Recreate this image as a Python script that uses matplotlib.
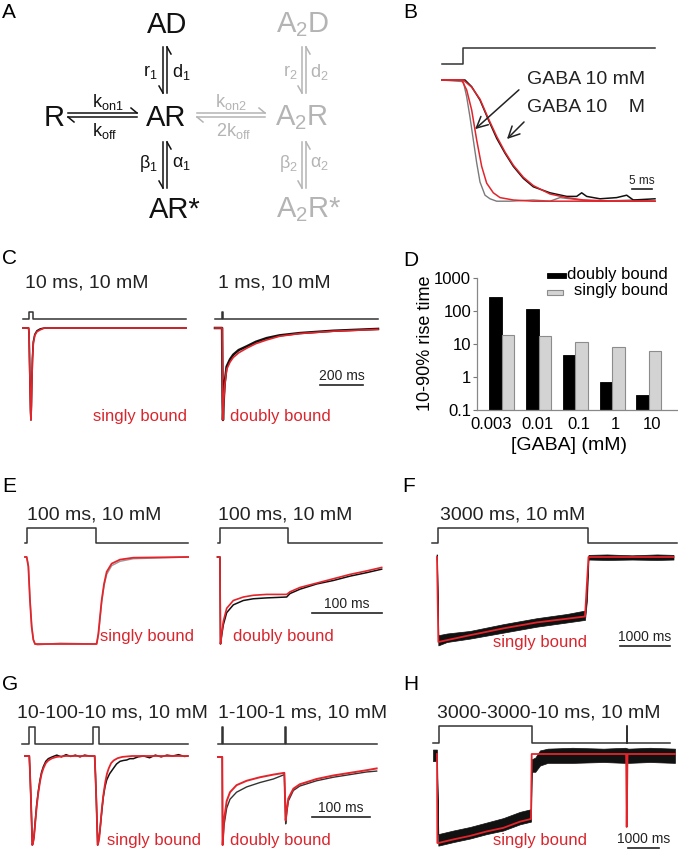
import numpy as np
import matplotlib.pyplot as plt
from matplotlib.patches import Rectangle

plt.rcParams['font.family'] = ['Liberation Sans', 'DejaVu Sans']
plt.rcParams['mathtext.default'] = 'regular'

W, H = 678, 852
RED = '#e3242b'
TXT_RED = '#d9262e'
GRAY = '#b4b4b4'
CMD = '#333333'

# ---- panel B: onset of currents (ms, normalised current)
B_cmd_t = [0, 5.2, 5.2, 53.25]
B_cmd = [0, 0, 1, 1]
B_fast_t = [0, 5.33, 6.17, 7.0, 7.83, 8.67, 9.5, 10.75, 12, 13.67, 17, 22.8, 27, 29.5, 32, 34.5, 39.5, 47.8, 53.25]
B_fast = [0, -0.014, -0.14, -0.31, -0.5, -0.69, -0.85, -0.96, -0.99, -1.01, -1.01, -1.0, -1.01, -0.98, -0.99, -1.0, -1.01, -1.0, -1.01]
B_fast_fit_t = [0, 4.92, 6.17, 7.42, 8.67, 9.92, 11.17, 12.83, 14.5, 17.83, 22.83, 53.25]
B_fast_fit = [0, 0, -0.083, -0.25, -0.5, -0.72, -0.86, -0.94, -0.98, -1.0, -1.01, -1.01]
B_slow_t = [0, 5.75, 7.42, 9.5, 11.58, 13.67, 15.75, 17.83, 20.33, 22.83, 27, 31.17, 33.67, 34.92, 36.17, 39.5, 43.67, 46.17, 47.83, 53.25]
B_slow = [0, 0, -0.056, -0.167, -0.33, -0.486, -0.61, -0.72, -0.82, -0.89, -0.94, -0.97, -0.97, -0.94, -0.97, -0.99, -0.98, -0.96, -1.0, -0.99]
B_slow_fit_t = [0, 5.33, 7.42, 9.5, 11.58, 13.67, 15.75, 17.83, 20.33, 22.83, 27, 31.17, 35.33, 43.67, 53.25]
B_slow_fit = [0, 0, -0.06, -0.16, -0.32, -0.47, -0.6, -0.71, -0.81, -0.88, -0.95, -0.98, -1.0, -1.01, -1.01]

# ---- panel C
C_left_cmd_t = [0, 28, 28, 46, 46, 758]
C_right_cmd_t = [0, 32, 32, 35, 35, 758]
pulse1 = [0, 0, 1, 1, 0, 0]
C_left_t = [0, 26, 28, 30, 33, 35, 37, 39, 41, 44, 48, 55, 65, 80, 100, 758]
C_left_data = [0, 0, -0.05, -0.3, -0.66, -0.9, -1.0, -0.83, -0.6, -0.33, -0.15, -0.07, -0.03, -0.01, 0, 0]
C_left_fit = [0, 0, -0.05, -0.3, -0.65, -0.88, -1.0, -0.85, -0.62, -0.35, -0.17, -0.08, -0.04, -0.02, 0, 0]
C_right_t = [0, 33, 34, 35.5, 37, 40, 45, 54, 70, 85, 110, 147, 190, 240, 300, 395, 550, 758]
C_right_data = [0, 0, -0.35, -0.8, -1.0, -0.8, -0.6, -0.42, -0.34, -0.29, -0.24, -0.2, -0.15, -0.11, -0.08, -0.055, -0.03, -0.01]
C_right_fit = [0, 0, -0.35, -0.8, -1.0, -0.82, -0.63, -0.45, -0.37, -0.32, -0.27, -0.22, -0.17, -0.13, -0.09, -0.06, -0.035, -0.015]

# ---- panel D: 10-90% rise time (ms)
gaba = ['0.003', '0.01', '0.1', '1', '10']
rise_doubly = [260, 117, 4.5, 0.69, 0.29]
rise_singly = [18.4, 17.1, 11.2, 7.9, 6.3]

# ---- panel E
E_left_cmd_t = [0, 3.5, 3.5, 101, 101, 233]
E_right_cmd_t = [0, 3.5, 3.5, 101, 101, 235]
E_left_t = [0, 2.4, 4.8, 7.1, 9.5, 11.9, 14.3, 18, 50, 100, 102.4, 104.8, 107.1, 109.5, 112.9, 116.7, 123.8, 135.7, 154.8, 233]
E_left_data = [0, 0, -0.1, -0.48, -0.79, -0.95, -1.0, -1.01, -0.99, -1.0, -0.99, -0.9, -0.72, -0.52, -0.33, -0.2, -0.1, -0.05, -0.02, 0]
E_left_fit = [0, 0, -0.11, -0.5, -0.8, -0.95, -1.0, -1.0, -1.0, -1.0, -1.0, -0.88, -0.69, -0.5, -0.31, -0.17, -0.076, -0.03, -0.008, 0]
E_right_t = [0, 3.5, 4.3, 6, 8.3, 13.1, 22.6, 36.9, 51.2, 70.2, 98.8, 103.6, 117.9, 141.7, 165.5, 189.3, 213, 234.5]
E_right_data = [0, 0, -1.0, -0.9, -0.78, -0.64, -0.55, -0.5, -0.48, -0.47, -0.46, -0.42, -0.37, -0.31, -0.27, -0.22, -0.18, -0.14]
E_right_fit = [0, 0, -1.0, -0.88, -0.74, -0.59, -0.5, -0.46, -0.44, -0.43, -0.43, -0.40, -0.35, -0.30, -0.25, -0.20, -0.16, -0.12]

# ---- panel F (noisy record given as envelope)
F_cmd_t = [0, 120, 120, 3120, 3120, 4900]
F_fit_t = [100, 127, 760, 1427, 2093, 3060, 3130, 4830]
F_fit = [0, -1.0, -0.92, -0.84, -0.77, -0.70, 0, 0]
F_band_t = [90, 100, 127, 300, 760, 1427, 2093, 2700, 3060, 3100, 3130, 3500, 4000, 4500, 4830]
F_upper = [0.03, 0.03, -0.92, -0.9, -0.87, -0.79, -0.72, -0.67, -0.63, -0.3, 0.025, 0.03, 0.02, 0.03, 0.025]
F_lower = [-0.03, -0.03, -1.04, -1.0, -0.96, -0.89, -0.82, -0.77, -0.74, -0.5, -0.03, -0.035, -0.03, -0.035, -0.03]

# ---- panel G
G_left_cmd_t = [0, 12, 12, 22, 22, 122, 122, 132, 132, 286]
G_right_cmd_t = [0, 6.5, 6.5, 8.5, 8.5, 115, 115, 117, 117, 274]
pulse2 = [0, 0, 1, 1, 0, 0, 1, 1, 0, 0]
G_left_fit_t = [5, 12.6, 14, 15.5, 16.8, 17.8, 19.2, 20.7, 23, 25.3, 28, 31, 33.8, 36.8, 41, 45.4, 52, 60, 75,
                125.3, 126.7, 128.2, 129.5, 130.5, 131.9, 133.4, 135.7, 138, 140.7, 143.7, 146.5, 149.5, 153.7, 158.1,
                164.7, 173, 190, 286]
G_left_fit = [0, 0, -0.22, -0.5, -0.78, -1.0, -0.97, -0.91, -0.74, -0.57, -0.42, -0.29, -0.2, -0.14, -0.08, -0.05,
              -0.025, -0.01, 0, 0, -0.22, -0.5, -0.78, -1.0, -0.97, -0.91, -0.74, -0.57, -0.42, -0.29, -0.2, -0.14,
              -0.08, -0.05, -0.025, -0.01, 0, 0]
G_left_data_t = [5, 12.6, 14, 15.5, 16.8, 17.8, 19.2, 20.7, 23, 25.3, 28, 31, 33.8, 36.8, 41, 45.4, 52, 60, 68, 76,
                 84, 92, 100, 108, 116, 125.3, 126.7, 128.2, 129.5, 130.5, 132, 134.5, 137, 140.2, 143, 146, 151,
                 157.5, 163, 169, 175, 180.5, 186, 192, 200, 210, 220, 230, 240, 250, 260, 270, 280, 286]
G_left_data = [0, 0, -0.22, -0.5, -0.78, -1.0, -0.97, -0.9, -0.72, -0.55, -0.4, -0.27, -0.18, -0.12, -0.06, -0.03,
               -0.01, 0.01, -0.01, 0.015, -0.005, 0.01, -0.01, 0.01, 0, 0, -0.22, -0.5, -0.78, -1.0, -0.95, -0.83,
               -0.66, -0.46, -0.35, -0.27, -0.2, -0.14, -0.09, -0.06, -0.05, -0.045, -0.03, -0.03, -0.01, 0.0,
               -0.02, 0.01, -0.01, 0.01, 0.0, 0.015, -0.005, 0]
G_right_t = [0, 7.3, 8, 10.3, 15, 20.7, 32, 49.4, 72.4, 95.4, 114.4, 116.7, 118.5, 121.3, 130, 141, 170, 198.8, 227.6, 256.3, 273.6]
G_right_fit = [0, 0, -1.0, -0.72, -0.5, -0.4, -0.32, -0.27, -0.23, -0.2, -0.18, -0.72, -0.6, -0.47, -0.36, -0.31, -0.25, -0.21, -0.18, -0.15, -0.13]
G_right_data = [0, 0, -1.0, -0.78, -0.58, -0.48, -0.4, -0.34, -0.29, -0.25, -0.2, -0.76, -0.64, -0.5, -0.38, -0.33, -0.27, -0.23, -0.2, -0.17, -0.16]

# ---- panel H
H_cmd_t = [0, 194, 194, 3194, 3194, 6245, 6245, 6265, 6265, 7645]
H_fit_t = [129, 140, 172, 655, 1194, 1732, 2268, 2806, 3161, 3184, 6230, 6248, 6275, 7806]
H_fit = [0, -1.0, -1.0, -0.96, -0.92, -0.87, -0.83, -0.76, -0.73, 0, 0, -0.82, 0, 0]
H_band_t = [0, 125, 172, 655, 1194, 1732, 2268, 2806, 3161, 3184, 3300, 3450, 3700, 4500, 5500, 6200, 6300, 7000, 7806]
H_upper = [0.05, 0.05, -0.9, -0.86, -0.82, -0.77, -0.72, -0.65, -0.62, -0.06, -0.04, 0.04, 0.06, 0.07, 0.06, 0.07, 0.06, 0.07, 0.06]
H_lower = [-0.08, -0.08, -1.03, -0.99, -0.95, -0.9, -0.86, -0.79, -0.76, -0.2, -0.2, -0.13, -0.1, -0.1, -0.09, -0.1, -0.1, -0.09, -0.1]


fig = plt.figure(figsize=(W / 100, H / 100), dpi=100)
ov = fig.add_axes([0, 0, 1, 1])
ov.set_xlim(0, W)
ov.set_ylim(H, 0)
ov.axis('off')
ov.set_zorder(5)


def cmd_axes(x0, x1, y_low, y_high, t_end, t, level):
    ax = fig.add_axes([x0 / W, 1 - y_low / H, (x1 - x0) / W, (y_low - y_high) / H])
    ax.set_xlim(0, t_end)
    ax.set_ylim(0, 1)
    ax.axis('off')
    ax.plot(t, level, color=CMD, lw=1.1, clip_on=False)
    return ax


def trace_axes(x0, x1, y_base, y_peak, t_end):
    ax = fig.add_axes([x0 / W, 1 - y_peak / H, (x1 - x0) / W, (y_peak - y_base) / H])
    ax.set_xlim(0, t_end)
    ax.set_ylim(-1, 0)
    ax.axis('off')
    return ax


def scale_bar(ax, t0, length, y, label, size=10):
    ax.plot([t0, t0 + length], [y, y], color='#222222', lw=1.2, clip_on=False)
    ax.annotate(label, (t0 + length / 2, y), xytext=(0, 1.5), textcoords='offset points',
                ha='center', va='bottom', fontsize=size, color='#222222', annotation_clip=False)


def trace(ax, t, y, color, lw=1.2, z=2):
    ax.plot(t, y, color=color, lw=lw, clip_on=False, zorder=z, solid_joinstyle='round')


# ---------------- panel A: kinetic scheme
def harpoons_h(x0, x1, y, color):
    ov.plot([x0, x1], [y - 2, y - 2], color=color, lw=1.1)
    ov.plot([x1 - 6, x1], [y - 7, y - 2], color=color, lw=1.1)
    ov.plot([x0, x1], [y + 2, y + 2], color=color, lw=1.1)
    ov.plot([x0, x0 + 6], [y + 2, y + 7], color=color, lw=1.1)


def harpoons_v(x, y0, y1, color):
    ov.plot([x - 2, x - 2], [y0, y1], color=color, lw=1.1)
    ov.plot([x - 2, x - 6], [y1, y1 - 7], color=color, lw=1.1)
    ov.plot([x + 2, x + 2], [y0, y1], color=color, lw=1.1)
    ov.plot([x + 2, x + 6], [y0, y0 + 7], color=color, lw=1.1)


K = '#111111'
for s, x, y, c in [('AD', 167, 25, K), ('AR', 166, 118, K), ('AR*', 175, 210, K), ('R', 54, 118, K),
                   ('A$_2$D', 303, 25, GRAY), ('A$_2$R', 302, 118, GRAY), ('A$_2$R*', 309, 210, GRAY)]:
    ov.text(x, y, s, fontsize=21, color=c, ha='center', va='center')

harpoons_h(68, 137, 115, K)
harpoons_h(197, 265, 115, GRAY)
harpoons_v(165, 47, 93, K)
harpoons_v(165, 142, 188, K)
harpoons_v(304, 47, 93, GRAY)
harpoons_v(304, 142, 188, GRAY)

for s, x, y, ha, c in [('r$_1$', 158, 72, 'right', K), ('d$_1$', 172, 72, 'left', K),
                       ('β$_1$', 158, 164, 'right', K), ('α$_1$', 172, 164, 'left', K),
                       ('k$_{on1}$', 108, 102, 'center', K), ('k$_{off}$', 105, 131, 'center', K),
                       ('k$_{on2}$', 231, 102, 'center', GRAY), ('2k$_{off}$', 234, 131, 'center', GRAY),
                       ('r$_2$', 298, 72, 'right', GRAY), ('d$_2$', 310, 72, 'left', GRAY),
                       ('β$_2$', 298, 164, 'right', GRAY), ('α$_2$', 310, 164, 'left', GRAY)]:
    ov.text(x, y, s, fontsize=13, color=c, ha=ha, va='center')

# ---------------- panel labels and titles
for s, x, y in [('A', 2, 13), ('B', 403, 13), ('C', 2, 258), ('D', 403, 260),
                ('E', 2, 487), ('F', 402, 487), ('G', 2, 685), ('H', 403, 685)]:
    ov.text(x, y, s, fontsize=15, ha='left', va='center')

for s, x, y in [('10 ms, 10 mM', 25, 283), ('1 ms, 10 mM', 218, 283),
                ('100 ms, 10 mM', 27, 515), ('100 ms, 10 mM', 218, 515), ('3000 ms, 10 mM', 440, 515),
                ('10-100-10 ms, 10 mM', 17, 713), ('1-100-1 ms, 10 mM', 218, 713),
                ('3000-3000-10 ms, 10 mM', 437, 713)]:
    ov.text(x, y, s, fontsize=14, ha='left', va='center', color='#222222')

for s, x, y in [('singly bound', 93, 416), ('doubly bound', 230, 416),
                ('singly bound', 100, 637), ('doubly bound', 233, 637), ('singly bound', 493, 642),
                ('singly bound', 107, 840), ('doubly bound', 230, 840), ('singly bound', 493, 840)]:
    ov.text(x, y, s, fontsize=12, ha='left', va='center', color=TXT_RED)

# ---------------- panel B
cmd_axes(442, 655, 64, 48, 53.25, B_cmd_t, B_cmd)
axB = trace_axes(442, 655, 80, 200, 53.25)
trace(axB, B_fast_t, B_fast, '#7a7a7a', lw=1.0)
trace(axB, B_slow_t, B_slow, '#111111', lw=1.1)
trace(axB, B_fast_fit_t, B_fast_fit, RED, lw=1.1, z=3)
trace(axB, B_slow_fit_t, B_slow_fit, RED, lw=1.1, z=3)
scale_bar(axB, 47.5, 5, -0.91, '5 ms', size=8.5)
ov.text(527, 80, 'GABA 10 mM', fontsize=14, va='center', color='#222222')
ov.text(527, 107, 'GABA 10    M', fontsize=14, va='center', color='#222222')
arrow_kw = dict(arrowstyle='->, head_length=0.8, head_width=0.4', lw=1.1, color='#222222')
ov.annotate('', xy=(473, 131), xytext=(521, 88), arrowprops=arrow_kw)
ov.annotate('', xy=(505, 141), xytext=(526, 120), arrowprops=arrow_kw)

# ---------------- panel C
cmd_axes(23, 186, 319, 312, 758, C_left_cmd_t, pulse1)
cmd_axes(215, 378, 319, 312, 758, C_right_cmd_t, pulse1)
axC1 = trace_axes(23, 186, 328, 420, 758)
trace(axC1, C_left_t, C_left_data, '#111111', lw=1.2)
trace(axC1, C_left_t, C_left_fit, RED, lw=1.2, z=3)
axC2 = trace_axes(215, 378, 328, 420, 758)
trace(axC2, C_right_t, C_right_data, '#111111', lw=1.8)
trace(axC2, C_right_t, C_right_fit, RED, lw=1.2, z=3)
scale_bar(axC2, 488, 200, -0.62, '200 ms')

# ---------------- panel D
axD = fig.add_axes([476.7 / W, 1 - 410 / H, (678 - 476.7) / W, (410 - 278) / H])
axD.patch.set_visible(False)
x = np.arange(len(gaba))
axD.bar(x - 0.17, rise_doubly, width=0.34, color='black', edgecolor='black', lw=0.6, log=True)
axD.bar(x + 0.17, rise_singly, width=0.34, color='#d3d3d3', edgecolor='#8c8c8c', lw=0.8, log=True)
axD.set_yscale('log')
axD.set_ylim(0.1, 1000)
axD.set_xlim(-0.68, 4.79)
axD.set_yticks([0.1, 1, 10, 100, 1000])
axD.set_yticklabels(['0.1', '1', '10', '100', '1000'], fontsize=12)
axD.yaxis.set_minor_locator(plt.NullLocator())
# labels sit a little off the bar groups in the original
axD.set_xticks([-0.28, 0.96, 2.1, 3.08, 4.08])
axD.set_xticklabels(gaba, fontsize=12)
axD.tick_params(axis='x', length=0, pad=5)
axD.tick_params(axis='y', length=3, width=0.8, pad=1, color='#777777')
for side in ['top', 'right']:
    axD.spines[side].set_visible(False)
for side in ['left', 'bottom']:
    axD.spines[side].set_color('#888888')
    axD.spines[side].set_linewidth(0.9)
ov.text(425, 343, '10-90% rise time', fontsize=13, rotation=90, ha='center', va='center')
ov.text(569, 445, '[GABA] (mM)', fontsize=14, ha='center', va='center')
ov.add_patch(Rectangle((547, 272.5), 19, 5.5, facecolor='black', edgecolor='black', lw=0.6))
ov.add_patch(Rectangle((547, 289.5), 16, 5.5, facecolor='#d3d3d3', edgecolor='#8c8c8c', lw=0.8))
ov.text(668, 274, 'doubly bound', fontsize=12, ha='right', va='center')
ov.text(668, 291, 'singly bound', fontsize=12, ha='right', va='center')

# ---------------- panel E
cmd_axes(25, 190, 543, 528, 235.7, E_left_cmd_t, pulse1)
cmd_axes(217.5, 382.5, 543, 528, 235.7, E_right_cmd_t, pulse1)
axE1 = trace_axes(25, 190, 557, 644, 235.7)
trace(axE1, E_left_t, E_left_data, '#9a9a9a', lw=1.0)
trace(axE1, E_left_t, E_left_fit, RED, lw=1.3, z=3)
axE2 = trace_axes(217.5, 382.5, 557, 644, 235.7)
trace(axE2, E_right_t, E_right_data, '#111111', lw=1.1)
trace(axE2, E_right_t, E_right_fit, RED, lw=1.2, z=3)
scale_bar(axE2, 135, 100, -0.64, '100 ms')

# ---------------- panel F
cmd_axes(432, 677, 543, 528, 4900, F_cmd_t, pulse1)
axF = trace_axes(432, 677, 557, 642, 4900)
axF.fill_between(F_band_t, F_lower, F_upper, color='#111111', lw=0.5, clip_on=False)
trace(axF, F_fit_t, F_fit, RED, lw=1.3, z=3)
scale_bar(axF, 3760, 1000, -1.05, '1000 ms')

# ---------------- panel G
cmd_axes(22, 190, 744, 727, 289.7, G_left_cmd_t, pulse2)
cmd_axes(218, 386, 744, 727, 289.7, G_right_cmd_t, pulse2)
axG1 = trace_axes(22, 190, 756, 845, 289.7)
trace(axG1, G_left_data_t, G_left_data, '#111111', lw=1.1)
trace(axG1, G_left_fit_t, G_left_fit, RED, lw=1.3, z=3)
axG2 = trace_axes(218, 386, 757, 845, 289.7)
trace(axG2, G_right_t, G_right_data, '#333333', lw=1.0)
trace(axG2, G_right_t, G_right_fit, RED, lw=1.4, z=3)
scale_bar(axG2, 162, 100, -0.68, '100 ms')

# ---------------- panel H
cmd_axes(433, 677, 743, 726, 7871, H_cmd_t, pulse2)
axH = trace_axes(433, 677, 754, 843, 7871)
axH.fill_between(H_band_t, H_lower, H_upper, color='#111111', lw=0.5, clip_on=False)
trace(axH, H_fit_t, H_fit, RED, lw=1.3, z=3)
scale_bar(axH, 6290, 1000, -1.06, '1000 ms')

fig.savefig('out.png', dpi=100)
